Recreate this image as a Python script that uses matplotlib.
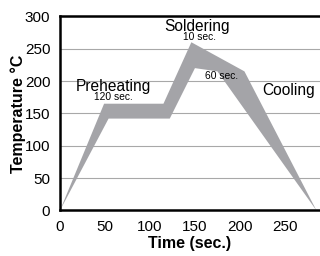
import matplotlib
matplotlib.use('Agg')
import matplotlib.pyplot as plt

# reflow profile band (outer = upper edge, inner = lower edge)
outer_t = [0, 49, 115, 146, 205, 285]
outer_T = [0, 165, 165, 260, 215, 0]
inner_t = [0, 54, 122, 150, 175, 285]
inner_T = [0, 142, 142, 220, 215, 0]

x_ticks = [0, 50, 100, 150, 200, 250]
y_ticks = [0, 50, 100, 150, 200, 250, 300]

plt.rcParams['font.family'] = ['Liberation Sans', 'DejaVu Sans']

fig = plt.figure(figsize=(3.2, 2.56), dpi=100, facecolor='white')
ax = fig.add_axes([0.1875, 0.178, 0.8125, 0.758])

band_x = outer_t + inner_t[::-1]
band_y = outer_T + inner_T[::-1]
ax.fill(band_x, band_y, color='#a4a4a8', lw=0, zorder=2)

ax.set_xlim(0, 289)
ax.set_ylim(0, 300)
ax.set_xticks(x_ticks)
ax.set_yticks(y_ticks)
ax.tick_params(length=0, labelsize=11, pad=7)
ax.yaxis.grid(True, color='#a8a8a8', lw=0.8, zorder=1)
ax.set_axisbelow(True)

for side in ['left', 'bottom', 'top']:
    ax.spines[side].set_linewidth(1.8)
ax.spines['right'].set_visible(False)

ax.set_xlabel('Time (sec.)', fontsize=11.5, fontweight='bold', labelpad=1)
ax.set_ylabel('Temperature °C', fontsize=11.5, fontweight='bold', labelpad=-1)

ax.text(59, 192, 'Preheating', fontsize=11.2, ha='center', va='center')
ax.text(59.5, 175, '120 sec.', fontsize=7.4, ha='center', va='center')
ax.text(152, 285, 'Soldering', fontsize=11.2, ha='center', va='center')
ax.text(155.5, 268, '10 sec.', fontsize=7.4, ha='center', va='center')
ax.text(179.5, 208, '60 sec.', fontsize=7.4, ha='center', va='center')
ax.text(254, 186, 'Cooling', fontsize=11.2, ha='center', va='center')

fig.savefig('out.png', dpi=100, facecolor='white')
